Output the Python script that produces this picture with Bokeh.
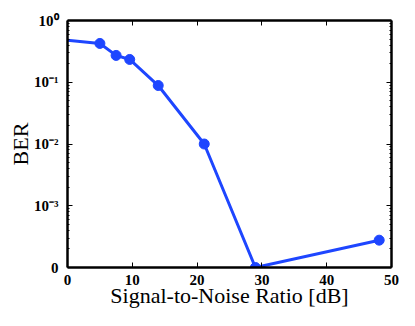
from bokeh.plotting import figure
from bokeh.models import (LinearAxis, LogAxis, FixedTicker, Range1d,
                          CustomJSTickFormatter)
from bokeh.embed import file_html
from bokeh.resources import INLINE

# data
snr_db = [0, 5, 7.5, 9.6, 14, 21.1, 29, 48.1]
ber = [0.48, 0.425, 0.272, 0.234, 0.0885, 0.0100, 1e-4, 2.77e-4]
x_ticks = [0, 10, 20, 30, 40, 50]
y_ticks = [1e-4, 1e-3, 1e-2, 1e-1, 1e0]
y_minor = [m * 10.0 ** d for d in range(-4, 0) for m in range(2, 10)]
y_tick_labels = ["0", "10\u207b\u00b3", "10\u207b\u00b2", "10\u207b\u00b9", "10\u2070"]
x_title = "Signal-to-Noise Ratio [dB]"
y_title = "BER"

BLUE = "#1e46ff"
FONT = "Liberation Serif"

p = figure(width=399, height=310, output_backend="svg", toolbar_location=None,
           x_range=Range1d(0, 50), y_range=Range1d(1e-4, 1), y_axis_type="log",
           min_border_left=67, min_border_right=8, min_border_top=20, min_border_bottom=30,
           x_axis_location=None, y_axis_location=None)
p.grid.visible = False
p.outline_line_color = None
p.background_fill_color = "white"
p.border_fill_color = "white"

blank = CustomJSTickFormatter(code="return '';")

def style(ax):
    ax.axis_line_width = 2.5
    ax.axis_line_color = "black"
    ax.major_tick_in = 5
    ax.major_tick_out = 0
    ax.minor_tick_in = 2
    ax.minor_tick_out = 0
    ax.major_tick_line_color = "black"
    ax.major_label_text_font = FONT
    ax.major_label_text_font_style = "bold"
    ax.major_label_text_font_size = "15px"
    ax.major_label_text_color = "black"
    ax.major_label_standoff = 3
    ax.axis_label_text_font = FONT
    ax.axis_label_text_font_style = "normal"
    ax.axis_label_text_font_size = "22px"
    ax.axis_label_text_color = "black"

xb = LinearAxis(ticker=FixedTicker(ticks=x_ticks), axis_label=x_title)
style(xb)
xb.minor_tick_line_color = None
xb.major_label_standoff = 7
xb.axis_label_standoff = -5
p.add_layout(xb, "below")

xt = LinearAxis(ticker=FixedTicker(ticks=x_ticks), formatter=blank)
style(xt)
xt.major_label_standoff = 0
xt.minor_tick_line_color = None
p.add_layout(xt, "above")

ylab = CustomJSTickFormatter(args=dict(labels=y_tick_labels), code="return labels[index];")
yl = LogAxis(ticker=FixedTicker(ticks=y_ticks, minor_ticks=y_minor), formatter=ylab,
             axis_label=y_title)
style(yl)
yl.major_label_standoff = 9
yl.axis_label_standoff = -2
p.add_layout(yl, "left")

yr = LogAxis(ticker=FixedTicker(ticks=y_ticks, minor_ticks=y_minor), formatter=blank)
style(yr)
yr.major_label_standoff = 0
p.add_layout(yr, "right")

p.line(snr_db, ber, line_color=BLUE, line_width=3)
p.scatter(snr_db[1:], ber[1:], size=10, fill_color=BLUE, line_color=BLUE)

open("out.html", "w").write(file_html(p, INLINE))
